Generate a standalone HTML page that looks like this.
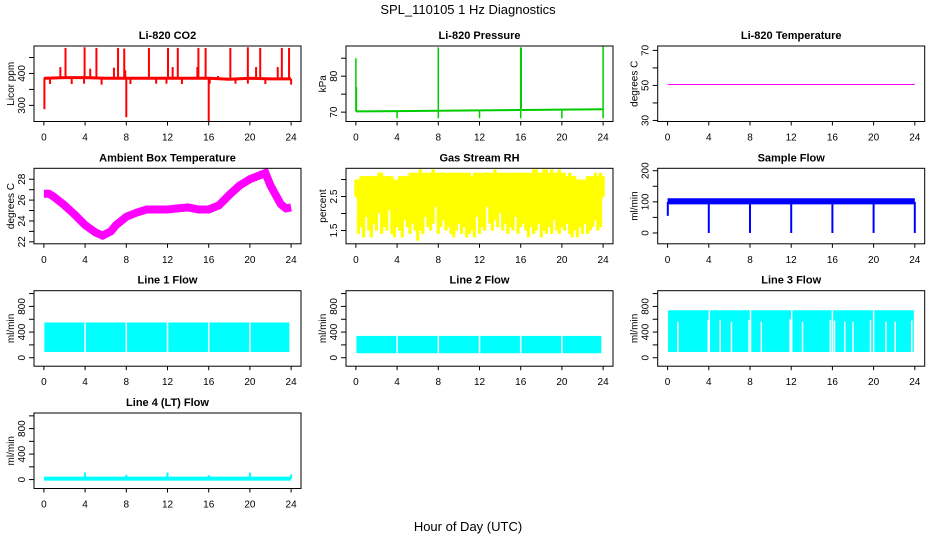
<!DOCTYPE html>
<html><head><meta charset="utf-8"><style>
html,body{margin:0;padding:0;background:#fff;}
svg{display:block;font-family:"Liberation Sans",Arial,sans-serif;}
</style></head><body>
<svg id="chart" width="936" height="540" viewBox="0 0 936 540" xmlns="http://www.w3.org/2000/svg">
<text x="468" y="14" text-anchor="middle" font-size="13">SPL_110105  1 Hz Diagnostics</text>
<text x="468" y="531" text-anchor="middle" font-size="13">Hour of Day (UTC)</text>
</svg>
<script>
// ---- data ----
const xTicks=[0,4,8,12,16,20,24];
const co2BaseT=[0,0.1,2,4,6,8,10,12,14,16,18,20,22,24];
const co2BaseV=[385,385,387,387,385,385,385,385,385,385,382,385,383,383];
const co2SpikeT=[2.1,3.95,5.1,7.2,7.8,10.2,12.05,13.0,15.0,15.7,18.1,19.8,21.0,23.1,23.8,1.6,4.5,6.8,7.9,12.5,14.9,16.9,20.6,22.7,0.6,2.7,3.9,5.6,8.4,10.9,11.9,13.4,16.1,18.6,19.8,21.5,24.0,0.05,8.0,16.0];
const co2SpikeV=[480,482,480,480,478,480,480,480,480,480,480,482,480,480,480,420,415,418,410,420,420,392,420,420,367,367,368,365,367,368,368,367,368,368,368,367,365,288,263,250];
const pBaseT=[0,4,8,12,16,20,24];
const pBaseV=[70.2,70.3,70.4,70.5,70.6,70.7,70.8];
const pSpikeT=[0,0.05,8,16,16.05,24,4,8,12,16,20,24];
const pSpikeV=[85,77,88,88,88,88.5,68.3,68.3,68.3,68.3,68.3,68.3];
const tempT=[0,24];
const tempV=[50.5,50.5];
const ambT=[0,0.5,1,2,3,4,5,5.7,6.5,7,8,9,10,11,12,13,14,15,16,17,18,19,20,21,21.5,22,23,23.5,24];
const ambV=[26.6,26.6,26.3,25.5,24.6,23.6,22.9,22.6,23.0,23.6,24.4,24.8,25.1,25.1,25.1,25.2,25.3,25.1,25.1,25.5,26.5,27.4,28.0,28.4,28.6,27.4,25.6,25.2,25.3];
const rhHigh=[3.0,3.0,3.1,3.1,3.1,3.1,3.1,3.1,3.1,3.2,3.2,3.1,3.1,3.1,3.1,3.0,3.0,3.1,3.1,3.1,3.1,3.2,3.2,3.2,3.2,3.3,3.2,3.2,3.2,3.2,3.3,3.2,3.2,3.2,3.2,3.2,3.2,3.2,3.2,3.2,3.2,3.2,3.2,3.2,3.2,3.1,3.2,3.2,3.2,3.2,3.2,3.2,3.2,3.2,3.3,3.2,3.2,3.2,3.2,3.2,3.2,3.2,3.2,3.2,3.2,3.2,3.2,3.2,3.2,3.3,3.3,3.2,3.2,3.3,3.3,3.2,3.3,3.2,3.2,3.3,3.2,3.2,3.1,3.2,3.1,3.1,3.0,3.0,3.0,3.0,3.1,3.1,3.1,3.2,3.1,3.2,3.1];
const rhLow=[2.5,1.4,1.6,1.3,1.9,1.5,1.3,1.7,1.5,2.0,1.4,1.6,1.5,2.1,1.4,1.3,1.6,1.5,1.3,1.8,1.6,1.4,1.7,1.5,1.2,1.5,1.4,1.9,1.6,1.5,1.7,2.2,1.4,1.6,1.8,1.5,1.6,1.4,1.3,1.5,1.7,1.4,1.6,1.3,1.4,1.5,1.3,1.9,1.4,1.6,1.5,2.2,1.7,1.5,1.8,1.6,2.0,1.5,1.7,1.4,1.6,1.5,1.9,1.4,1.6,1.7,1.5,1.3,1.6,1.4,1.5,1.7,1.3,1.5,1.4,1.6,1.4,1.8,1.5,1.4,1.6,1.5,1.7,1.4,1.3,1.5,1.3,1.6,1.4,1.7,1.4,1.5,1.6,1.8,1.5,1.6,2.5];
const sfT=[0,4,8,12,16,20,24];
const sfLo=[95,95,95,95,95,95,95];
const sfHi=[108,108,108,108,108,108,108];
const sfDipT=[0.02,4,8,12,16,20,24];
const sfDipV=[55,0,0,0,0,0,0];
const l1Lo=90, l1Hi=550;
const l1Gaps=[4,8,12,16,20,23.9];
const l2Lo=70, l2Hi=340;
const l2Gaps=[4,8,12,16,20,23.9];
const l3Lo=90, l3Hi=740;
const l3Gaps=[1.0,3.95,4.05,5.1,6.2,7.9,8.05,9.1,11.9,12.05,13.1,15.8,16.0,16.2,17.2,18.0,19.7,20.0,21.2,22.1,23.7];
const l3GapTop=[560,590,740,590,560,590,740,560,600,740,560,590,740,580,560,560,590,740,560,560,580];
const l4BaseT=[0,24];
const l4BaseV=[15,15];
const l4SpikeT=[4,8,12,16,20,24];
const l4SpikeV=[110,75,110,70,110,80];

// ---- layout ----
const svg=document.getElementById('chart');
const NS='http://www.w3.org/2000/svg';
const colL=[34,346,657.7], boxW=267;
const rowT=[46,168.3,290.7,413], boxH=75.5;
function el(tag,attrs,parent){const e=document.createElementNS(NS,tag);for(const k in attrs)e.setAttribute(k,attrs[k]);(parent||svg).appendChild(e);return e;}
function panel(c,r,ymin,ymax,title,ylab,yTicks,yLabels,name){
  const g=el('g',{});
  
  
  const L=colL[c],T=rowT[r];
  const X=t=>L+boxW*(t+0.96)/25.92;
  const Y=v=>T+boxH*(ymax-v)/(ymax-ymin);
  const tt=el('text',{x:L+boxW/2,y:T-7,'text-anchor':'middle','font-size':'11','font-weight':'bold'},g);
  tt.textContent=title;
  
  
  const plot=el('g',{},g);
  
  
  const box=el('rect',{x:L,y:T,width:boxW,height:boxH,fill:'none',stroke:'#000','stroke-width':1},g);
  
  
  const xa=el('g',{},g);
  
  
  xTicks.forEach(t=>{
    el('line',{x1:X(t),x2:X(t),y1:T+boxH,y2:T+boxH+4,stroke:'#000'},xa);
    const tx=el('text',{x:X(t),y:T+boxH+19,'text-anchor':'middle','font-size':'10'},xa);
    tx.textContent=t;
    
    
  });
  const ya=el('g',{},g);
  
  
  yTicks.forEach(v=>el('line',{x1:L-5,x2:L,y1:Y(v),y2:Y(v),stroke:'#000'},ya));
  yLabels.forEach(v=>{
    const tx=el('text',{x:L-9,y:Y(v),'text-anchor':'middle','font-size':'10',transform:`rotate(-90 ${L-9} ${Y(v)})`},ya);
    tx.textContent=v;
    
    
  });
  const yl=el('text',{x:L-20,y:T+boxH/2,'text-anchor':'middle','font-size':'10',transform:`rotate(-90 ${L-20} ${T+boxH/2})`},g);
  yl.textContent=ylab;
  
  
  return {X,Y,g:plot,L,T};
}
function polyline(p,ts,vs,color,w,name){
  const pts=ts.map((t,i)=>p.X(t).toFixed(1)+','+p.Y(vs[i]).toFixed(1)).join(' ');
  const e=el('polyline',{points:pts,fill:'none',stroke:color,'stroke-width':w},p.g);
  
  
  return e;
}
function vline(p,t,v0,v1,color,w,name){
  const e=el('line',{x1:p.X(t),x2:p.X(t),y1:p.Y(v0),y2:p.Y(v1),stroke:color,'stroke-width':w},p.g);
  
  
  return e;
}
function interp(ts,vs,t){for(let i=1;i<ts.length;i++){if(t<=ts[i]){const f=(t-ts[i-1])/(ts[i]-ts[i-1]);return vs[i-1]+f*(vs[i]-vs[i-1]);}}return vs[vs.length-1];}

// CO2
let p=panel(0,0,249.5,486,'Li-820 CO2','Licor ppm',[300,350,400,450],[300,400],'co2');
polyline(p,co2BaseT,co2BaseV,'#ff0000',3,'co2-baseline');
co2SpikeT.forEach((t,i)=>vline(p,t,interp(co2BaseT,co2BaseV,t),co2SpikeV[i],'#ff0000',2,'co2-spike'));
// Pressure
p=panel(1,0,67.4,88.4,'Li-820 Pressure','kPa',[70,75,80,85],[70,80],'pressure');
polyline(p,pBaseT,pBaseV,'#00cc00',2,'pressure-baseline');
pSpikeT.forEach((t,i)=>vline(p,t,interp(pBaseT,pBaseV,t),pSpikeV[i],'#00cc00',1.5,'pressure-spike'));
// Temperature
p=panel(2,0,29.4,72.5,'Li-820 Temperature','degrees C',[30,40,50,60,70],[30,50,70],'li820-temp');
polyline(p,tempT,tempV,'#ff00ff',1,'temperature-line');
// Ambient
p=panel(0,1,21.81,29.05,'Ambient Box Temperature','degrees C',[22,23,24,25,26,27,28],[22,24,26,28],'ambient-temp');
polyline(p,ambT,ambV,'#ff00ff',8,'ambient-temp-band');
// RH
p=panel(1,1,1.11,3.33,'Gas Stream RH','percent',[1.5,2,2.5,3],[1.5,2.5],'rh');
rhLow.forEach((v,i)=>{const t=24*i/(rhLow.length-1);vline(p,t,v,rhHigh[i],'#ffff00',3.2,'rh-bar');});
const rf=el('rect',{x:p.X(0),y:p.Y(3.0),width:p.X(24)-p.X(0),height:p.Y(2.45)-p.Y(3.0),fill:'#ffff00'},p.g);


// Sample flow
p=panel(2,1,-34.8,207.7,'Sample Flow','ml/min',[0,50,100,150,200],[0,100,200],'sample-flow');
polyline(p,sfT,sfLo,'#0000ff',2,'sample-flow-low');
polyline(p,sfT,sfHi,'#0000ff',2,'sample-flow-high');
polyline(p,sfT,sfT.map((t,i)=>(sfLo[i]+sfHi[i])/2),'#0000ff',4,'sample-flow-core');
sfDipT.forEach((t,i)=>vline(p,t,100,sfDipV[i],'#0000ff',2,'sample-flow-dip'));
// Line flows
function flowPanel(c,r,title,name,lo,hi,gaps,gapTop){
  const q=panel(c,r,-132,1045,title,'ml/min',[0,200,400,600,800,1000],[0,400,800],name);
  const rr=el('rect',{x:q.X(0.05),y:q.Y(hi),width:q.X(23.9)-q.X(0.05),height:q.Y(lo)-q.Y(hi),fill:'#00ffff'},q.g);
  
  
  gaps.forEach((t,i)=>vline(q,t,lo-5,gapTop?gapTop[i]:hi+5,'#ffffff',1.5,name+'-gap'));
  return q;
}
flowPanel(0,2,'Line 1 Flow','line1-flow',l1Lo,l1Hi,l1Gaps);
flowPanel(1,2,'Line 2 Flow','line2-flow',l2Lo,l2Hi,l2Gaps);
flowPanel(2,2,'Line 3 Flow','line3-flow',l3Lo,l3Hi,l3Gaps,l3GapTop);
p=panel(0,3,-140,1045,'Line 4 (LT) Flow','ml/min',[0,200,400,600,800,1000],[0,400,800],'line4-flow');
polyline(p,l4BaseT,l4BaseV,'#00ffff',4,'line4-baseline');
l4SpikeT.forEach((t,i)=>vline(p,t,15,l4SpikeV[i],'#00ffff',2,'line4-spike'));
</script>
</body></html>
